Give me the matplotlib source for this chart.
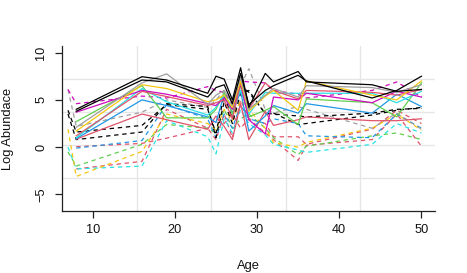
import numpy as np
import matplotlib
matplotlib.use("Agg")
import matplotlib.pyplot as plt

plt.rcParams['font.family'] = ['Liberation Sans', 'DejaVu Sans']

nan = np.nan

# ages sampled (solid series start at 8, dashed ones may start at 7)
ages_solid = [8, 16, 19, 24, 25, 26, 27, 28, 29, 31, 32, 35, 36, 44, 47, 50]
ages_dash = [7, 8, 16, 19, 24, 25, 26, 27, 28, 29, 31, 32, 35, 36, 44, 47, 50]

# R 4 default palette
black = "#000000"
red = "#DF536B"
green = "#61D04F"
blue = "#2297E6"
cyan = "#28E2E5"
magenta = "#CD0BBC"
gold = "#F5C710"
gray = "#9E9E9E"

# solid series (log abundance)
s_red2 = [0.85, 3.5, 2.9, 1.9, 3.3, 2.2, 0.8, 4.6, 0.8, 3.8, 2.3, 2.9, 3.2, 2.8, 2.8, 3.0]
s_blue = [0.9, 5.0, 4.4, 3.2, 2.6, 5.6, 3.6, 5.9, 1.7, 3.3, 4.4, 3.6, 4.6, 3.6, 5.6, 4.3]
s_green = [2.7, 6.5, 3.1, 3.1, 4.0, 5.8, 3.5, 6.5, 3.2, 3.9, 4.3, 2.4, 5.1, 4.7, 3.2, 6.8]
s_cyan = [1.0, 6.2, 4.8, 3.4, 4.2, 5.5, 4.3, 6.0, 3.5, 5.8, 5.7, 5.7, 5.7, 5.7, 4.7, 5.9]
s_magenta = [3.7, 6.0, 5.6, 4.6, 4.4, 5.2, 4.0, 6.7, 2.9, 1.4, 5.3, 5.0, 5.7, 4.7, 5.9, 5.3]
s_red1 = [1.2, 5.9, 5.35, 4.4, 4.7, 5.0, 3.0, 6.8, 4.0, 6.8, 6.0, 5.1, 6.0, 5.8, 5.5, 6.1]
s_gold = [1.7, 6.6, 6.2, 4.8, 5.0, 5.5, 4.2, 7.0, 3.8, 5.4, 6.0, 3.9, 7.0, 5.5, 5.0, 7.0]
s_gray = [2.1, 6.8, 7.75, 4.5, 5.5, 6.0, 4.6, 7.4, 4.0, 5.5, 6.2, 5.3, 6.5, 6.3, 5.8, 6.6]
s_black2 = [3.8, 7.1, 6.9, 5.3, 6.3, 6.6, 4.6, 7.8, 4.5, 6.0, 6.5, 7.6, 7.0, 5.2, 6.0, 7.5]
s_black1 = [4.0, 7.45, 7.1, 5.7, 7.5, 7.2, 5.0, 8.4, 4.2, 7.8, 6.9, 8.0, 6.9, 6.6, 5.9, 6.1]

# dashed series
d_magenta = [6.1, 4.6, 5.4, 5.2, 6.4, 6.0, 5.8, 4.5, 7.0, 6.9, 6.8, 6.0, 5.6, 5.2, 6.0, 6.9, 5.3]
d_gray = [6.1, 2.2, 3.7, 5.0, 4.2, 5.0, 6.0, 4.5, 6.5, 8.3, 4.0, 3.6, 4.3, 4.0, 2.0, 3.6, 1.9]
d_black1 = [3.9, 1.6, 2.3, 4.5, 4.0, 1.5, 5.5, 3.0, 6.5, 5.8, 3.6, 3.5, 3.3, 3.2, 3.6, 4.0, 4.1]
d_black2 = [3.5, 0.8, 1.6, 4.6, 4.3, 1.0, 4.8, 2.5, 5.7, 6.0, 3.5, 3.6, 2.4, 2.5, 3.4, 3.9, 4.2]
d_gold = [1.9, -3.1, -0.45, 3.5, 2.5, 1.8, 4.0, 2.8, 5.0, 4.0, 2.0, 0.5, 0.0, 0.5, 2.0, 3.5, 1.8]
d_cyan = [0.0, -2.3, -2.0, 2.8, 1.1, -0.7, 3.0, 1.5, 4.0, 2.5, 1.3, 0.3, -0.3, -0.55, 0.3, 2.5, 1.5]
d_green = [-0.5, -2.0, 0.3, 2.4, 2.0, 1.5, 4.0, 2.0, 3.0, 3.5, 2.0, 1.0, -0.8, 0.1, 1.2, 1.5, 0.8]
d_red1 = [nan, -2.3, -1.5, 4.0, 2.0, 0.8, 3.5, 1.0, 5.0, 3.0, 1.5, 0.8, -1.4, 0.2, 0.8, 3.5, 0.1]
d_red2 = [nan, 0.05, 0.4, 0.95, 2.0, 3.0, 2.5, 3.5, 2.0, 3.0, 2.5, 1.1, 1.1, 0.3, 1.9, 3.9, 2.5]
d_blue = [nan, -0.1, 0.7, 4.5, 3.0, 1.0, 3.5, 2.0, 4.5, 3.0, 2.5, 3.0, 2.5, 1.2, 1.0, 3.5, 2.0]

dashed = [(d_red1, red), (d_red2, red), (d_green, green), (d_cyan, cyan), (d_gold, gold),
          (d_blue, blue), (d_gray, gray), (d_magenta, magenta), (d_black1, black), (d_black2, black)]
solid = [(s_red2, red), (s_blue, blue), (s_green, green), (s_cyan, cyan), (s_magenta, magenta),
         (s_red1, red), (s_gold, gold), (s_gray, gray), (s_black2, black), (s_black1, black)]

fig = plt.figure(figsize=(4.67, 2.73), dpi=100)
ax = fig.add_axes([62 / 467, 62 / 273, 373 / 467, 165.5 / 273])
xlim = (6.27, 51.65)
ylim = (-6.75, 10.75)
ax.set_xlim(*xlim)
ax.set_ylim(*ylim)

# grid(5, 5) style: equal divisions of the plot region
for k in range(1, 5):
    ax.axvline(xlim[0] + k * (xlim[1] - xlim[0]) / 5, color="#E6E6E6", lw=1.0, zorder=0)
    ax.axhline(ylim[0] + k * (ylim[1] - ylim[0]) / 5, color="#E6E6E6", lw=1.0, zorder=0)

for vals, c in dashed:
    ax.plot(ages_dash, vals, color=c, lw=0.9, dashes=(3.5, 3))
for vals, c in solid:
    ax.plot(ages_solid, vals, color=c, lw=0.9)

ax.spines['top'].set_visible(False)
ax.spines['right'].set_visible(False)
for s in ('left', 'bottom'):
    ax.spines[s].set_linewidth(0.9)
    ax.spines[s].set_color("#222222")

ax.set_xticks([10, 20, 30, 40, 50])
ax.set_yticks([-5, 0, 5, 10])
ax.tick_params(axis='both', direction='out', length=5.2, width=0.9, color="#222222",
               labelsize=9.2, labelcolor="#111111")
ax.tick_params(axis='x', pad=4.5)
ax.tick_params(axis='y', pad=5.5)
for lab in ax.get_yticklabels():
    lab.set_rotation(90)
    lab.set_va('center')

fig.text(248.5 / 467, 1 - 266 / 273, "Age", ha='center', va='center', fontsize=9.3, color="#111111")
fig.text(8.5 / 467, 1 - 128.5 / 273, "Log Abundace", ha='center', va='center', rotation=90,
         fontsize=9.3, color="#111111")

fig.savefig("out.png", dpi=100)
